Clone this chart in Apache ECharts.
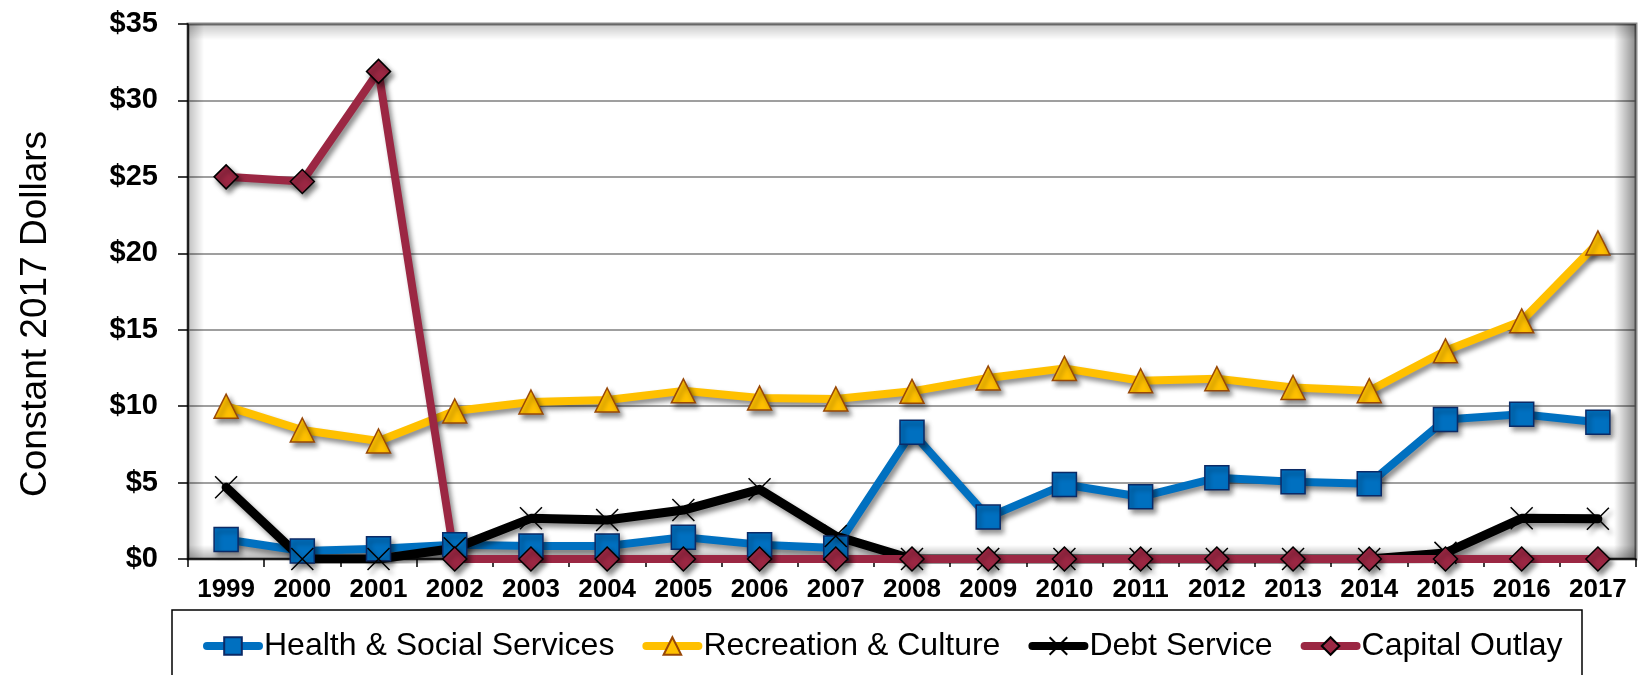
<!DOCTYPE html>
<html>
<head>
<meta charset="utf-8">
<script src="https://cdn.jsdelivr.net/npm/echarts@6/dist/echarts.min.js"></script>
<style>
html,body{margin:0;padding:0;background:#fff;}
#chart{width:1639px;height:675px;}
</style>
</head>
<body>
<div id="chart"></div>
<script>
const categories = ['1999','2000','2001','2002','2003','2004','2005','2006','2007','2008','2009','2010','2011','2012','2013','2014','2015','2016','2017'];
const health = [1.28,0.52,0.67,0.94,0.85,0.85,1.43,0.94,0.72,8.3,2.74,4.87,4.07,5.31,5.05,4.93,9.13,9.47,8.95];
const recreation = [10.0,8.44,7.72,9.68,10.27,10.40,11.0,10.53,10.47,10.97,11.84,12.47,11.66,11.8,11.22,11.01,13.62,15.58,20.68];
const debt = [4.69,0,0,0.7,2.66,2.55,3.2,4.56,1.5,0,0,0,0,0,0,0,0.4,2.66,2.63];
const capital = [25.0,24.7,31.9,0,0,0,0,0,0,0,0,0,0,0,0,0,0,0,0];
const seriesNames = ['Health & Social Services','Recreation & Culture','Debt Service','Capital Outlay'];
const yTicks = {min:0, max:35, interval:5};

const FONT = '"Liberation Sans", Arial, sans-serif';
const shadow = {shadowColor:'rgba(0,0,0,0.45)', shadowBlur:5, shadowOffsetX:3, shadowOffsetY:4};
const G = {left:188, right:3, top:24, bottom:116};
const W = 1639, H = 675;
const px0 = G.left, px1 = W - G.right, py0 = G.top, py1 = H - G.bottom;

const chart = echarts.init(document.getElementById('chart'), null, {renderer:'canvas'});

function mk(name, data, color, lw, symbol, symbolSize, itemStyle) {
  return {
    name, type:'line', data, symbol, symbolSize,
    showAllSymbol:true,
    lineStyle:Object.assign({color, width:lw, cap:'round', join:'round'}, shadow),
    itemStyle:Object.assign({}, itemStyle, shadow),
    emphasis:{disabled:true},
    animation:false
  };
}

chart.setOption({
  backgroundColor:'#fff',
  animation:false,
  grid:{left:G.left, right:G.right, top:G.top, bottom:G.bottom, show:true, backgroundColor:'#fff', borderColor:'#8c8c8c', borderWidth:3},
  graphic:[
    {type:'rect', z:1, silent:true, shape:{x:px0, y:py0, width:px1-px0, height:16},
     style:{fill:new echarts.graphic.LinearGradient(0,0,0,1,[{offset:0,color:'rgba(0,0,0,0.22)'},{offset:1,color:'rgba(0,0,0,0)'}])}},
    {type:'rect', z:1, silent:true, shape:{x:px0, y:py0, width:16, height:py1-py0},
     style:{fill:new echarts.graphic.LinearGradient(0,0,1,0,[{offset:0,color:'rgba(0,0,0,0.25)'},{offset:1,color:'rgba(0,0,0,0)'}])}},
    {type:'rect', z:1, silent:true, shape:{x:px1-22, y:py0, width:22, height:py1-py0},
     style:{fill:new echarts.graphic.LinearGradient(0,0,1,0,[{offset:0,color:'rgba(0,0,0,0)'},{offset:1,color:'rgba(0,0,0,0.45)'}])}},
    {type:'rect', z:1, silent:true, shape:{x:px0, y:py1-14, width:px1-px0, height:14},
     style:{fill:new echarts.graphic.LinearGradient(0,0,0,1,[{offset:0,color:'rgba(0,0,0,0)'},{offset:1,color:'rgba(0,0,0,0.3)'}])}},
    {type:'rect', z:0, silent:true, shape:{x:172, y:610, width:1410, height:90},
     style:{fill:'#fff', stroke:'#000', lineWidth:1.5}},
    {type:'text', z:5, silent:true, x:36, y:314, rotation:Math.PI/2,
     style:{text:'Constant 2017 Dollars', font:'37px ' + FONT, fill:'#000', align:'center', verticalAlign:'middle'}}
  ],
  legend:{
    data:seriesNames,
    left:203, top:630, padding:0,
    itemWidth:52, itemHeight:22, itemGap:28,
    lineStyle:{width:8, cap:'round'},
    textStyle:{fontFamily:FONT, fontSize:32, color:'#000'},
    selectedMode:false
  },
  xAxis:{
    type:'category', data:categories, boundaryGap:true,
    axisLine:{show:true, lineStyle:{color:'#000', width:1.5}},
    axisTick:{show:true, inside:false, length:8, lineStyle:{color:'#000', width:1.5}},
    axisLabel:{fontFamily:FONT, fontSize:26, fontWeight:'bold', color:'#000', margin:18, interval:0},
    splitLine:{show:false}
  },
  yAxis:{
    type:'value', min:yTicks.min, max:yTicks.max, interval:yTicks.interval,
    axisLine:{show:true, lineStyle:{color:'#000', width:1.5}},
    axisTick:{show:true, inside:false, length:10, lineStyle:{color:'#000', width:1.5}},
    axisLabel:{fontFamily:FONT, fontSize:29, fontWeight:'bold', color:'#000', margin:30, formatter:'${value}'},
    splitLine:{show:true, lineStyle:{color:'#7f7f7f', width:1.5}}
  },
  series:[
    mk(seriesNames[0], health, '#0070C0', 8, 'rect', 24, {color:'#0070C0', borderColor:'#0B2A66', borderWidth:1.5}),
    mk(seriesNames[1], recreation, '#FFC000', 8, 'triangle', 24, {color:'#FFC000', borderColor:'#984807', borderWidth:1.5}),
    mk(seriesNames[2], debt, '#000000', 9, 'path://M0,0L10,10M10,0L0,10', 22, {color:'#000', borderColor:'#000', borderWidth:1.5}),
    mk(seriesNames[3], capital, '#9B2743', 8, 'diamond', 24, {color:'#9B2743', borderColor:'#000', borderWidth:1.5})
  ]
});
</script>
</body>
</html>
